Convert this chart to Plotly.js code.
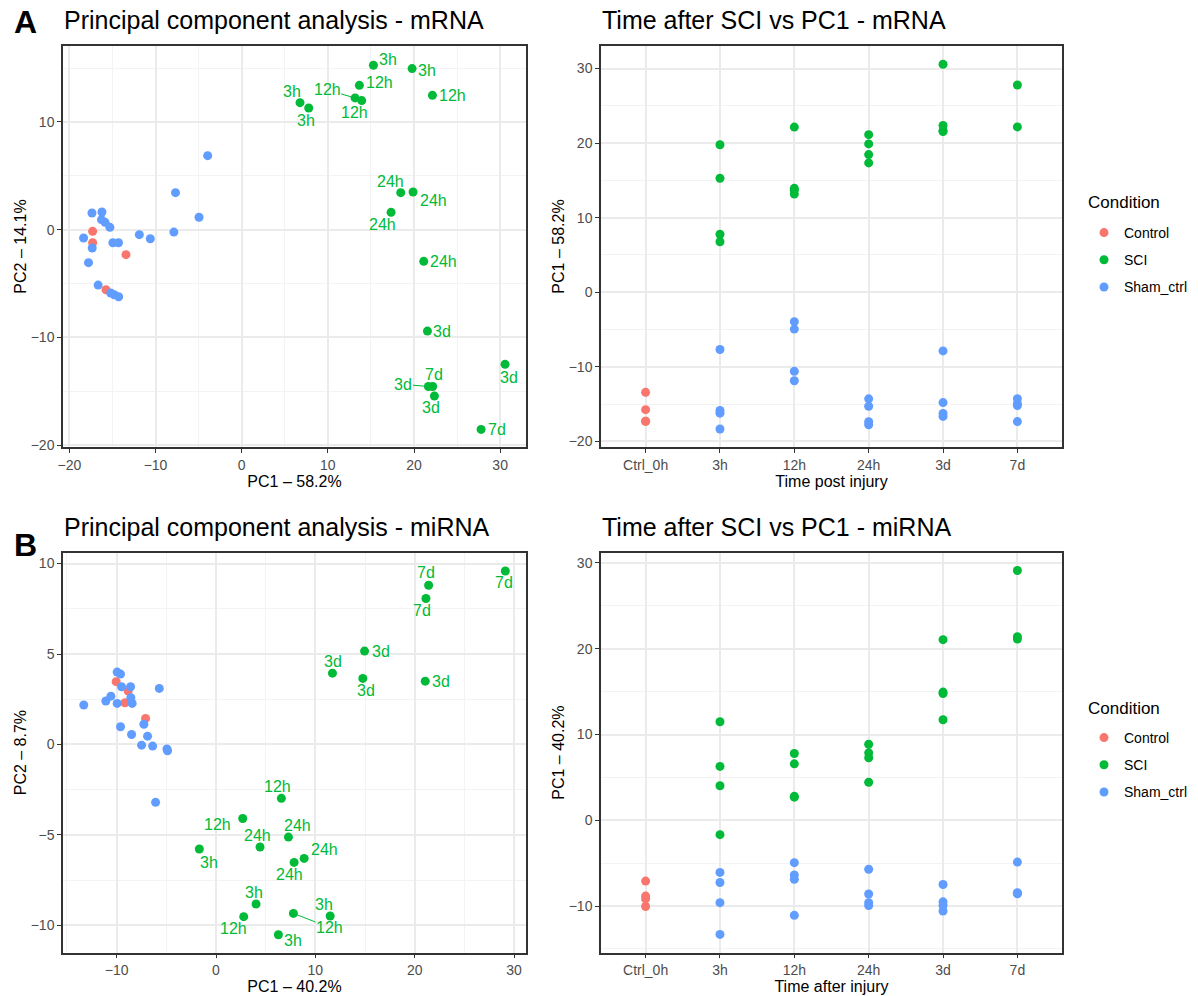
<!DOCTYPE html>
<html>
<head>
<meta charset="utf-8">
<script src="https://cdn.plot.ly/plotly-3.0.1.min.js"></script>
<style>html,body{margin:0;padding:0;background:#fff;}#chart{width:1198px;height:996px;}</style>
</head>
<body>
<div id="chart"></div>
<script>
// ---------------- DATA ----------------
const timeCategories = ['Ctrl_0h', '3h', '12h', '24h', '3d', '7d'];

// mRNA
const mrnaCtrlPC1 = [-17.30, -17.30, -13.43, -15.75];
const mrnaCtrlPC2 = [-0.15, -1.21, -2.32, -5.57];
const mrnaCtrlTime = ['Ctrl_0h', 'Ctrl_0h', 'Ctrl_0h', 'Ctrl_0h'];
const mrnaSciPC1 = [15.29, 19.78, 6.77, 7.78, 13.66, 22.14, 13.16, 13.93, 18.46, 19.89, 17.34, 21.13, 21.56, 30.57, 21.67, 22.37, 22.17, 27.79];
const mrnaSciPC2 = [15.26, 14.95, 11.79, 11.30, 13.40, 12.47, 12.23, 11.98, 3.44, 3.50, 1.61, -2.94, -9.41, -12.50, -14.55, -15.44, -14.55, -18.54];
const mrnaSciTime = ['3h', '3h', '3h', '3h', '12h', '12h', '12h', '12h', '24h', '24h', '24h', '24h', '3d', '3d', '3d', '3d', '7d', '7d'];
const mrnaShamPC1 = [-18.35, -17.78, -17.38, -17.35, -16.66, -16.27, -16.22, -15.86, -15.30, -15.20, -14.95, -14.80, -14.30, -14.28, -7.87, -7.68, -3.95, -4.95, -10.61, -11.88];
const mrnaShamPC2 = [-0.77, -3.06, 1.55, -1.70, -5.14, 0.93, 1.64, 0.68, 0.22, -5.88, -1.21, -6.04, -1.21, -6.22, -0.22, 3.44, 6.87, 1.15, -0.84, -0.46];
const mrnaShamTime = ['3h', '24h', '24h', '7d', '3d', '3d', '3h', '3h', '24h', '7d', '7d', '3d', '24h', '7d', '3d', '3h', '12h', '12h', '12h', '12h'];

// miRNA
const mirnaCtrlPC1 = [-10.05, -8.84, -9.17, -7.09];
const mirnaCtrlPC2 = [3.47, 2.95, 2.30, 1.44];
const mirnaCtrlTime = ['Ctrl_0h', 'Ctrl_0h', 'Ctrl_0h', 'Ctrl_0h'];
const mirnaSciPC1 = [-1.68, 4.03, 11.49, 6.28, 6.58, 2.69, 7.79, 2.79, 7.29, 4.43, 8.87, 7.86, 14.95, 11.72, 14.78, 21.06, 29.12, 21.40, 21.13];
const mirnaSciPC2 = [-5.78, -8.82, -9.48, -10.52, -2.98, -4.09, -9.34, -9.52, -5.12, -5.67, -6.30, -6.52, 5.16, 3.94, 3.65, 3.50, 9.59, 8.80, 8.07];
const mirnaSciTime = ['3h', '3h', '3h', '3h', '12h', '12h', '12h', '12h', '24h', '24h', '24h', '24h', '3d', '3d', '3d', '3d', '7d', '7d', '7d'];
const mirnaShamPC1 = [-13.31, -9.61, -7.26, -6.08, -11.09, -6.89, -6.38, -4.94, -9.95, -9.61, -8.60, -5.71, -10.58, -9.95, -9.51, -7.49, -8.57, -8.50, -8.44, -4.88];
const mirnaShamPC2 = [2.18, 3.89, 1.12, -3.20, 2.40, 0.46, -0.09, -0.25, 2.27, 0.98, 3.19, 3.10, 2.67, 4.00, 3.19, -0.04, 2.58, 0.55, 2.27, -0.35];
const mirnaShamTime = ['3h', '3h', '3h', '3h', '12h', '12h', '12h', '12h', '24h', '24h', '24h', '24h', '3d', '3d', '3d', '3d', '7d', '7d', '7d', '7d'];

// ---------------- STYLE ----------------
// pixel offsets of the repelled text labels (same order as the SCI arrays); third value = draw leader segment
const mrnaLabelStyle = [
  [15, -6, 0], [15, 2, 0], [-8, -11, 0], [-3, 13, 0],
  [20, -3, 0], [20, 0, 0], [-28, -8, 1], [-7, 12, 0],
  [-10, -11, 0], [20, 9, 0], [-9, 12, 0], [20, 0, 0],
  [15, 0, 0], [4, 13, 0], [-25, -2, 1], [-3, 11, 0],
  [1, -12, 0], [16, 0, 0]
];
const mirnaLabelStyle = [
  [10, 13, 0], [-2, -12, 0], [-6, -11, 0], [15, 6, 0],
  [-4, -12, 0], [-25, 6, 0], [36, 14, 1], [-10, 12, 0],
  [9, -12, 0], [-3, -12, 0], [20, -9, 0], [-5, 12, 0],
  [16, 0, 0], [1, -12, 0], [3, 12, 0], [16, 0, 0],
  [-1, 12, 0], [-3, -13, 0], [-4, 12, 0]
];
const COLORS = {Control: '#F8766D', SCI: '#00BA38', Sham_ctrl: '#619CFF'};
const FONT = 'Liberation Sans, Arial, Helvetica, sans-serif';
const W = 1198, H = 996;
const MS = 9;

function pts(x, y, name, xa, ya, legendId, showlegend) {
  return {type: 'scatter', mode: 'markers', x: x, y: y, name: name, xaxis: xa, yaxis: ya, legend: legendId,
    legendgroup: name + legendId, showlegend: showlegend, hoverinfo: 'x+y+name',
    marker: {color: COLORS[name], size: MS, line: {width: 0}}};
}
const traces = [
  pts(mrnaCtrlPC1, mrnaCtrlPC2, 'Control', 'x', 'y', 'legend', true),
  pts(mrnaSciPC1, mrnaSciPC2, 'SCI', 'x', 'y', 'legend', true),
  pts(mrnaShamPC1, mrnaShamPC2, 'Sham_ctrl', 'x', 'y', 'legend', true),
  pts(mrnaCtrlTime, mrnaCtrlPC1, 'Control', 'x2', 'y2', 'legend', false),
  pts(mrnaSciTime, mrnaSciPC1, 'SCI', 'x2', 'y2', 'legend', false),
  pts(mrnaShamTime, mrnaShamPC1, 'Sham_ctrl', 'x2', 'y2', 'legend', false),
  pts(mirnaCtrlPC1, mirnaCtrlPC2, 'Control', 'x3', 'y3', 'legend2', true),
  pts(mirnaSciPC1, mirnaSciPC2, 'SCI', 'x3', 'y3', 'legend2', true),
  pts(mirnaShamPC1, mirnaShamPC2, 'Sham_ctrl', 'x3', 'y3', 'legend2', true),
  pts(mirnaCtrlTime, mirnaCtrlPC1, 'Control', 'x4', 'y4', 'legend2', false),
  pts(mirnaSciTime, mirnaSciPC1, 'SCI', 'x4', 'y4', 'legend2', false),
  pts(mirnaShamTime, mirnaShamPC1, 'Sham_ctrl', 'x4', 'y4', 'legend2', false)
];

function axBase(extra) {
  return Object.assign({showline: true, mirror: true, linecolor: '#333333', linewidth: 1.5,
    ticks: 'outside', ticklen: 4, tickwidth: 1.3, tickcolor: '#333333',
    tickfont: {family: FONT, size: 14, color: '#4D4D4D'},
    showgrid: true, gridcolor: '#EBEBEB', gridwidth: 1.5, zeroline: false, fixedrange: true}, extra);
}
function minor(d) { return {dtick: d, showgrid: true, gridcolor: '#F3F3F3', gridwidth: 0.8, ticks: ''}; }
function ttl(t, standoff) { return {text: t, font: {family: FONT, size: 16, color: '#000'}, standoff: standoff}; }

const topDom = [1 - 447 / H, 1 - 46 / H];
const botDom = [1 - 952.5 / H, 1 - 552.7 / H];
const leftDom = [63 / W, 526 / W];
const rightDom = [601 / W, 1062 / W];

const annotations = [];
function addLabels(xs, ys, labs, style, xa, ya) {
  for (let i = 0; i < xs.length; i++) {
    const s = style[i];
    annotations.push({x: xs[i], y: ys[i], xref: xa, yref: ya, text: labs[i],
      showarrow: true, ax: s[0], ay: s[1], axref: 'pixel', ayref: 'pixel',
      arrowhead: 0, arrowwidth: 1, standoff: s[2] ? 4 : 0,
      arrowcolor: s[2] ? COLORS.SCI : 'rgba(0,0,0,0)',
      font: {family: FONT, size: 16, color: COLORS.SCI}, borderpad: 0});
  }
}
addLabels(mrnaSciPC1, mrnaSciPC2, mrnaSciTime, mrnaLabelStyle, 'x', 'y');
addLabels(mirnaSciPC1, mirnaSciPC2, mirnaSciTime, mirnaLabelStyle, 'x3', 'y3');

function textAnn(t, xpx, ypx, size, bold) {
  annotations.push({text: bold ? '<b>' + t + '</b>' : t, xref: 'paper', yref: 'paper',
    x: xpx / W, y: 1 - ypx / H, xanchor: 'left', yanchor: 'middle', showarrow: false,
    font: {family: FONT, size: size, color: '#000'}});
}
textAnn('A', 12, 22, 32, true);
textAnn('Principal component analysis - mRNA', 62, 20, 25, false);
textAnn('Time after SCI vs PC1 - mRNA', 600, 20, 25, false);
textAnn('B', 12, 545, 32, true);
textAnn('Principal component analysis - miRNA', 62, 527, 25, false);
textAnn('Time after SCI vs PC1 - miRNA', 600, 527, 25, false);
// legend titles
textAnn('Condition', 1086, 203, 17, false);
textAnn('Condition', 1086, 708, 17, false);

const legendBase = {font: {family: FONT, size: 14, color: '#000'},
  traceorder: 'grouped', tracegroupgap: 6, bgcolor: 'rgba(0,0,0,0)',
  xanchor: 'left', yanchor: 'top', itemclick: false, itemdoubleclick: false};

const layout = {width: W, height: H, margin: {l: 0, r: 0, t: 0, b: 0},
  paper_bgcolor: '#fff', plot_bgcolor: '#fff', font: {family: FONT}, showlegend: true,
  legend: Object.assign({}, legendBase, {x: 1084 / W, y: 1 - 217 / H}),
  legend2: Object.assign({}, legendBase, {x: 1084 / W, y: 1 - 722 / H}),
  xaxis: axBase({domain: leftDom, anchor: 'y', range: [-20.74, 33.0], dtick: 10, tick0: 0, minor: minor(5), title: ttl('PC1 – 58.2%', 3)}),
  yaxis: axBase({domain: topDom, anchor: 'x', range: [-20.17, 17.05], dtick: 10, tick0: 0, minor: minor(5), title: ttl('PC2 – 14.1%', 0)}),
  xaxis2: axBase({domain: rightDom, anchor: 'y2', type: 'category', categoryorder: 'array', categoryarray: timeCategories, range: [-0.6, 5.6], title: ttl('Time post injury', 3)}),
  yaxis2: axBase({domain: topDom, anchor: 'x2', range: [-20.76, 33.02], dtick: 10, tick0: 0, minor: minor(5), title: ttl('PC1 – 58.2%', 0)}),
  xaxis3: axBase({domain: leftDom, anchor: 'y3', range: [-15.4, 31.2], dtick: 10, tick0: 0, minor: minor(5), title: ttl('PC1 – 40.2%', 0)}),
  yaxis3: axBase({domain: botDom, anchor: 'x3', range: [-11.5, 10.6], dtick: 5, tick0: 0, minor: minor(2.5), title: ttl('PC2 – 8.7%', 0)}),
  xaxis4: axBase({domain: rightDom, anchor: 'y4', type: 'category', categoryorder: 'array', categoryarray: timeCategories, range: [-0.6, 5.6], title: ttl('Time after injury', 0)}),
  yaxis4: axBase({domain: botDom, anchor: 'x4', range: [-15.42, 31.2], dtick: 10, tick0: 0, minor: minor(5), title: ttl('PC1 – 40.2%', 0)}),
  annotations: annotations};

Plotly.newPlot('chart', traces, layout, {displayModeBar: false});
</script>
</body>
</html>
